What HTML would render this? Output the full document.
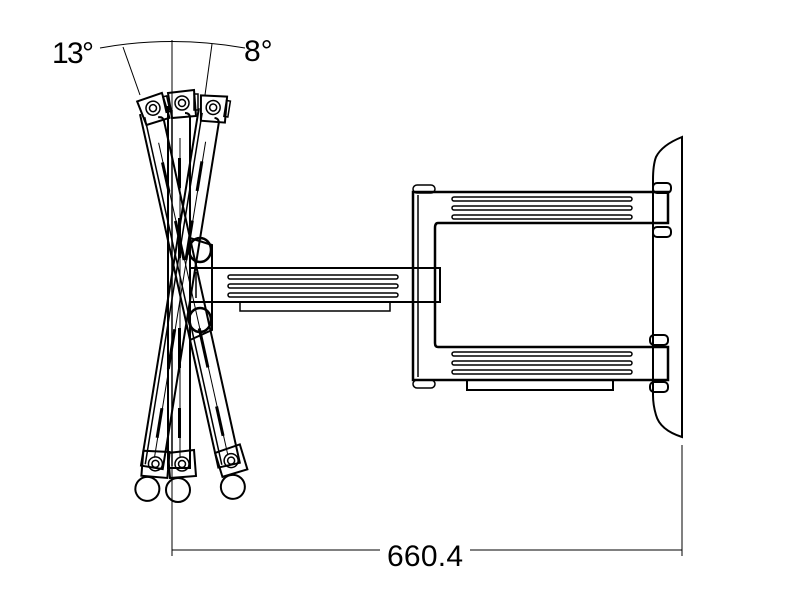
<!DOCTYPE html>
<html><head><style>html,body{margin:0;padding:0;background:#fff}svg{display:block}</style></head>
<body>
<svg width="800" height="600" viewBox="0 0 800 600" xmlns="http://www.w3.org/2000/svg" fill="none" stroke="#000" stroke-width="1.5">
<defs>
<g id="arm">
  <path d="M168 108 L168 470 L190 470 L190 120 Q190 115 185 115" stroke-width="2"/>
  <line x1="172" y1="112" x2="172" y2="468"/>
  <line x1="180" y1="140" x2="180" y2="460" stroke-width="1"/>
  <rect x="178" y="160" width="3" height="30" fill="#000" stroke="none"/>
  <rect x="178" y="220" width="3" height="40" fill="#000" stroke="none"/>
  <rect x="178" y="330" width="3" height="40" fill="#000" stroke="none"/>
  <rect x="178" y="410" width="3" height="30" fill="#000" stroke="none"/>
  <path d="M168 95 L194 92 L196 118 L172 120 Z" stroke-width="2"/>
  <circle cx="182" cy="105" r="7"/><circle cx="182" cy="105" r="3.5"/>
  <rect x="194" y="96" width="4" height="16"/>
  <path d="M168 455 L194 452 L196 478 L170 480 Z" stroke-width="2"/>
  <circle cx="182" cy="466" r="7"/><circle cx="182" cy="466" r="3.5"/>
  <circle cx="178" cy="492" r="12" stroke-width="2"/>
</g>
</defs>
<path d="M100 48 Q172 35 245 48" stroke-width="1"/>
<line x1="123" y1="47" x2="140" y2="95" stroke-width="1"/>
<line x1="212" y1="44" x2="205" y2="95" stroke-width="1"/>
<line x1="172" y1="40" x2="172" y2="556" stroke-width="1"/>
<text x="52" y="63" font-family="Liberation Sans, sans-serif" font-size="30" fill="#000" stroke="none" textLength="42">13°</text>
<text x="244" y="61" font-family="Liberation Sans, sans-serif" font-size="30" fill="#000" stroke="none">8°</text>
<use href="#arm" transform="rotate(-12.5 182 239)"/>
<use href="#arm" transform="translate(0 -2)"/>
<use href="#arm" transform="rotate(9.2 182 300)"/>
<ellipse cx="200" cy="250" rx="11" ry="12" stroke-width="2.5"/>
<ellipse cx="200" cy="320" rx="11" ry="12" stroke-width="2.5"/>
<path d="M190 238 L212 245 L212 330 L190 340" stroke-width="2"/>
<rect x="190" y="268" width="250" height="34" stroke-width="2"/>
<line x1="196" y1="272" x2="196" y2="298"/>
<rect x="228" y="275" width="170" height="4" rx="2"/>
<rect x="228" y="284" width="170" height="4" rx="2"/>
<rect x="228" y="293" width="170" height="4" rx="2"/>
<rect x="240" y="302" width="150" height="9"/>
<path d="M413 192 L668 192 L668 223 L438 223 Q435 223 435 228 L435 343 Q435 347 438 347 L668 347 L668 380 L413 380 Z" stroke-width="2.5"/>
<line x1="418" y1="195" x2="418" y2="377"/>
<rect x="413" y="185" width="22" height="8" rx="4"/>
<rect x="413" y="380" width="22" height="8" rx="4"/>
<rect x="452" y="197" width="180" height="4" rx="2"/>
<rect x="452" y="206" width="180" height="4" rx="2"/>
<rect x="452" y="215" width="180" height="4" rx="2"/>
<rect x="452" y="352" width="180" height="4" rx="2"/>
<rect x="452" y="361" width="180" height="4" rx="2"/>
<rect x="452" y="370" width="180" height="4" rx="2"/>
<rect x="467" y="380" width="146" height="10" stroke-width="2"/>
<rect x="653" y="183" width="18" height="10" rx="4" stroke-width="2"/>
<rect x="653" y="227" width="18" height="10" rx="4" stroke-width="2"/>
<rect x="650" y="335" width="18" height="10" rx="4" stroke-width="2"/>
<rect x="650" y="382" width="18" height="10" rx="4" stroke-width="2"/>
<path d="M682 137 L682 437 Q660 430 656 415 Q653 405 653 395 L653 180 Q653 165 656 157 Q662 145 682 137 Z" stroke-width="2"/>
<line x1="682" y1="445" x2="682" y2="556" stroke-width="1"/>
<line x1="172" y1="550" x2="380" y2="550" stroke-width="1"/>
<line x1="470" y1="550" x2="682" y2="550" stroke-width="1"/>
<text x="425" y="566" text-anchor="middle" font-family="Liberation Sans, sans-serif" font-size="30" fill="#000" stroke="none" textLength="76">660.4</text>
</svg>
</body></html>
